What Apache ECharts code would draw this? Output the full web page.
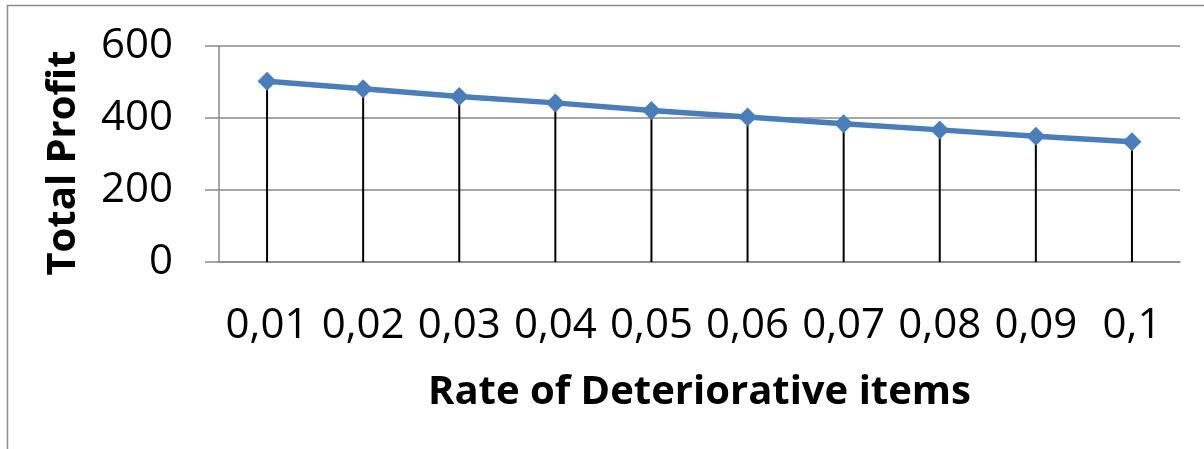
<!DOCTYPE html>
<html>
<head>
<meta charset="utf-8">
<script src="https://cdn.jsdelivr.net/npm/echarts@6/dist/echarts.min.js"></script>
<style>
html,body{margin:0;padding:0;background:#fff;}
#c{width:1204px;height:449px;}
</style>
</head>
<body>
<div id="c"></div>
<script>
var categories = ['0,01','0,02','0,03','0,04','0,05','0,06','0,07','0,08','0,09','0,1'];
var totalProfit = [502, 481, 460, 442, 421, 403, 384, 367, 349, 334];
var yTicks = [0, 200, 400, 600];
var xTitle = 'Rate of Deteriorative items';
var yTitle = 'Total Profit';

var chart = echarts.init(document.getElementById('c'));
var FONT = '"Open Sans", "Noto Sans", sans-serif';
chart.setOption({
  animation: false,
  backgroundColor: '#fff',
  grid: {left: 219, right: 24, top: 46, bottom: 187, containLabel: false},
  graphic: [
    {type: 'rect', left: 5, top: 3, shape: {width: 1400, height: 600},
     style: {fill: 'none', stroke: '#8c8c8c', lineWidth: 1.5}, silent: true, z: 0},
    {type: 'text', x: 64, y: 163, rotation: Math.PI / 2,
     style: {text: yTitle, fontFamily: FONT, fontWeight: 'bold', fontSize: 40,
             fill: '#000', align: 'center', verticalAlign: 'middle'}}
  ],
  xAxis: {
    type: 'category',
    data: categories,
    boundaryGap: true,
    name: xTitle,
    nameLocation: 'middle',
    nameGap: 111,
    nameTextStyle: {fontFamily: FONT, fontWeight: 'bold', fontSize: 40, color: '#000'},
    axisLine: {show: true, lineStyle: {color: '#888', width: 1.5}},
    axisTick: {show: false},
    axisLabel: {fontFamily: FONT, fontSize: 42, color: '#000', margin: 43, interval: 0},
    splitLine: {show: false}
  },
  yAxis: {
    type: 'value',
    min: yTicks[0],
    max: yTicks[yTicks.length - 1],
    interval: yTicks[1] - yTicks[0],
    axisLine: {show: true, lineStyle: {color: '#888', width: 1.5}},
    axisTick: {show: true, length: 14, lineStyle: {color: '#888', width: 1.5}},
    axisLabel: {fontFamily: FONT, fontSize: 42, color: '#000', margin: 46},
    splitLine: {show: true, lineStyle: {color: '#888', width: 1.5}}
  },
  series: [
    {
      type: 'bar',
      data: totalProfit,
      barWidth: 2,
      itemStyle: {color: '#000'},
      z: 2,
      silent: true
    },
    {
      type: 'line',
      data: totalProfit,
      symbol: 'diamond',
      symbolSize: [19, 19],
      lineStyle: {color: '#4a7ebb', width: 5.5},
      itemStyle: {color: '#4a7ebb'},
      z: 3
    }
  ]
});
</script>
</body>
</html>
